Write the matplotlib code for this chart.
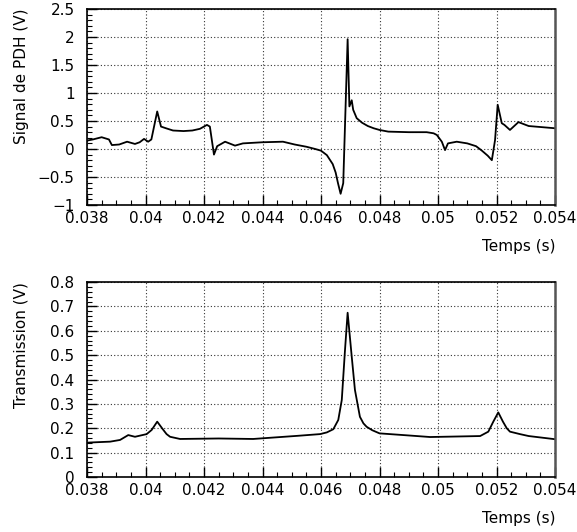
"""PDH error signal and cavity transmission versus time (two stacked panels)."""

import matplotlib

matplotlib.use("Agg")

import matplotlib.pyplot as plt
from matplotlib.ticker import FuncFormatter, MultipleLocator

# Signal de PDH (V) vs temps (s)
pdh_time = [
    0.0380, 0.0382, 0.0385, 0.03875, 0.03885, 0.0391, 0.03937, 0.03964, 0.0398,
    0.03995, 0.04009, 0.0402, 0.0404, 0.04053, 0.0407, 0.04094, 0.0413, 0.0416,
    0.04186, 0.0421, 0.0422, 0.04234, 0.04245, 0.04272, 0.04306, 0.04333, 0.0440,
    0.0447, 0.0451, 0.0455, 0.0458, 0.0460, 0.0462, 0.0464, 0.0465, 0.04658,
    0.04667, 0.04676, 0.04691, 0.04697, 0.04705, 0.0471, 0.04722, 0.0474, 0.0476,
    0.0478, 0.0480, 0.0483, 0.0490, 0.04961, 0.04985, 0.04996, 0.05013, 0.05024,
    0.05034, 0.05064, 0.0510, 0.0513, 0.0515, 0.0517, 0.05184, 0.05195, 0.05204,
    0.05218, 0.05227, 0.05246, 0.05275, 0.0531, 0.0540,
]
pdh_signal = [
    0.15, 0.17, 0.21, 0.17, 0.07, 0.08, 0.13, 0.09, 0.12,
    0.18, 0.13, 0.17, 0.67, 0.40, 0.37, 0.33, 0.32, 0.33,
    0.36, 0.43, 0.40, -0.10, 0.05, 0.13, 0.06, 0.10, 0.12,
    0.13, 0.08, 0.04, 0.00, -0.03, -0.11, -0.27, -0.42, -0.61,
    -0.80, -0.61, 1.96, 0.76, 0.87, 0.70, 0.55, 0.47, 0.41,
    0.37, 0.34, 0.31, 0.30, 0.30, 0.28, 0.25, 0.13, -0.02,
    0.10, 0.13, 0.10, 0.05, -0.03, -0.12, -0.20, 0.16, 0.79,
    0.46, 0.43, 0.34, 0.48, 0.41, 0.37,
]

# Transmission (V) vs temps (s)
trans_time = [
    0.0380, 0.03879, 0.03913, 0.03941, 0.03964, 0.04004, 0.04021, 0.0404,
    0.04061, 0.04072, 0.04084, 0.04118, 0.0425, 0.04368, 0.04521, 0.04597,
    0.0462, 0.04642, 0.04659, 0.04671, 0.04682, 0.04691, 0.04705, 0.04716,
    0.04733, 0.04745, 0.04756, 0.04775, 0.0480, 0.04893, 0.04973, 0.05144,
    0.05172, 0.05189, 0.05206, 0.05222, 0.05235, 0.05246, 0.0528, 0.0531,
    0.0540,
]
trans_signal = [
    0.141, 0.145, 0.152, 0.172, 0.165, 0.176, 0.193, 0.227,
    0.193, 0.176, 0.165, 0.156, 0.158, 0.156, 0.169, 0.176,
    0.183, 0.196, 0.234, 0.316, 0.521, 0.674, 0.494, 0.357,
    0.247, 0.220, 0.206, 0.192, 0.179, 0.171, 0.164, 0.168,
    0.186, 0.227, 0.265, 0.227, 0.200, 0.186, 0.176, 0.168,
    0.155,
]

X_LIMITS = (0.038, 0.054)
X_LABEL = "Temps (s)"

plt.rcParams["font.family"] = ["DejaVu Sans"]


def g_format(value, _pos):
    return f"{value:g}".replace("-", "\u2212")


def style_axis(axis, y_limits, y_major, y_minor, y_label):
    axis.set_xlim(*X_LIMITS)
    axis.set_ylim(*y_limits)
    axis.xaxis.set_major_locator(MultipleLocator(0.002))
    axis.xaxis.set_minor_locator(MultipleLocator(0.0005))
    axis.yaxis.set_major_locator(MultipleLocator(y_major))
    axis.yaxis.set_minor_locator(MultipleLocator(y_minor))
    axis.xaxis.set_major_formatter(FuncFormatter(g_format))
    axis.yaxis.set_major_formatter(FuncFormatter(g_format))
    axis.tick_params(which="both", direction="in", top=False, right=False,
                     labelsize=11, colors="black")
    axis.tick_params(which="major", length=7, width=1.0)
    axis.tick_params(which="minor", length=3.5, width=0.8)
    axis.tick_params(axis="x", pad=4.5)
    axis.tick_params(axis="y", pad=9)
    axis.grid(True, which="major", linestyle=(0, (1, 2)), color="#333333", linewidth=0.8)
    for spine in axis.spines.values():
        spine.set_linewidth(1.2)
    axis.spines["right"].set_linewidth(1.8)
    axis.spines["right"].set_color("#555555")
    axis.set_ylabel(y_label, fontsize=11, loc="top")
    axis.yaxis.set_label_coords(-0.125, 1.0)
    axis.set_xlabel(X_LABEL, fontsize=11, loc="right", labelpad=9)


figure = plt.figure(figsize=(5.77, 5.32), dpi=100)
top_axis = figure.add_axes([0.1508, 0.6147, 0.8111, 0.3684])
bottom_axis = figure.add_axes([0.1508, 0.1034, 0.8111, 0.3665])

top_axis.plot(pdh_time, pdh_signal, color="black", linewidth=1.3)
style_axis(top_axis, (-1, 2.5), 0.5, 0.1, "Signal de PDH (V)")

bottom_axis.plot(trans_time, trans_signal, color="black", linewidth=1.3)
style_axis(bottom_axis, (0, 0.8), 0.1, 0.02, "Transmission (V)")

figure.savefig("out.png", dpi=100, facecolor="white")
plt.close(figure)
